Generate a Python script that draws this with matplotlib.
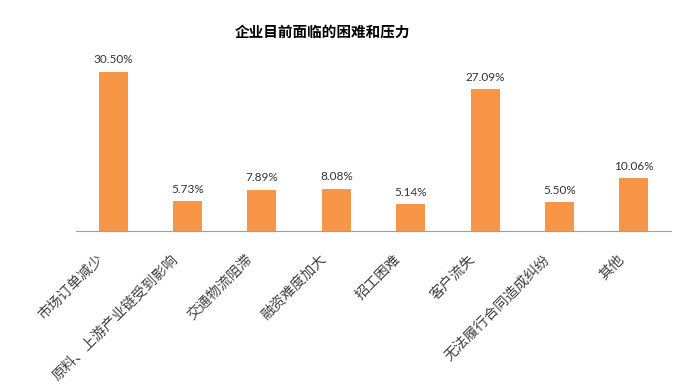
import matplotlib.pyplot as plt
from matplotlib.transforms import ScaledTranslation

plt.rcParams['font.family'] = ['Noto Sans CJK SC', 'DejaVu Sans']

categories = ["市场订单减少", "原料、上游产业链受到影响", "交通物流阻滞", "融资难度加大",
              "招工困难", "客户流失", "无法履行合同造成纠纷", "其他"]
values = [30.50, 5.73, 7.89, 8.08, 5.14, 27.09, 5.50, 10.06]

fig = plt.figure(figsize=(7, 3.86), dpi=100)
ax = fig.add_axes([76 / 700, 1 - 231 / 386, 595 / 700, 183 / 386])

x = range(len(values))
ax.bar(x, values, width=0.39, color="#F79646")
for xi, v in zip(x, values):
    ax.text(xi, v + 1.2, f"{v:.2f}%", ha="center", va="bottom",
            fontsize=8.5, color="#333333", family=["Lato", "DejaVu Sans"])

ax.set_xlim(-0.5, len(values) - 0.5)
ax.set_ylim(0, 35)
ax.set_yticks([])
ax.set_xticks([])

# category labels, rotated, ending just below-left of each bar
offset = ScaledTranslation(-12 / 100, -26 / 100, fig.dpi_scale_trans)
for xi, name in zip(x, categories):
    ax.text(xi, 0, name, transform=ax.get_xaxis_transform() + offset,
            rotation=45, ha="right", va="center", rotation_mode="anchor",
            fontsize=10.3, color="#404040")

for s in ["top", "right", "left"]:
    ax.spines[s].set_visible(False)
ax.spines["bottom"].set_color("#A0A0A0")

fig.text(322 / 700, 1 - 32 / 386, "企业目前面临的困难和压力", ha="center", va="center",
         fontsize=10.5, fontweight="bold")

fig.savefig("out.png", dpi=100)
